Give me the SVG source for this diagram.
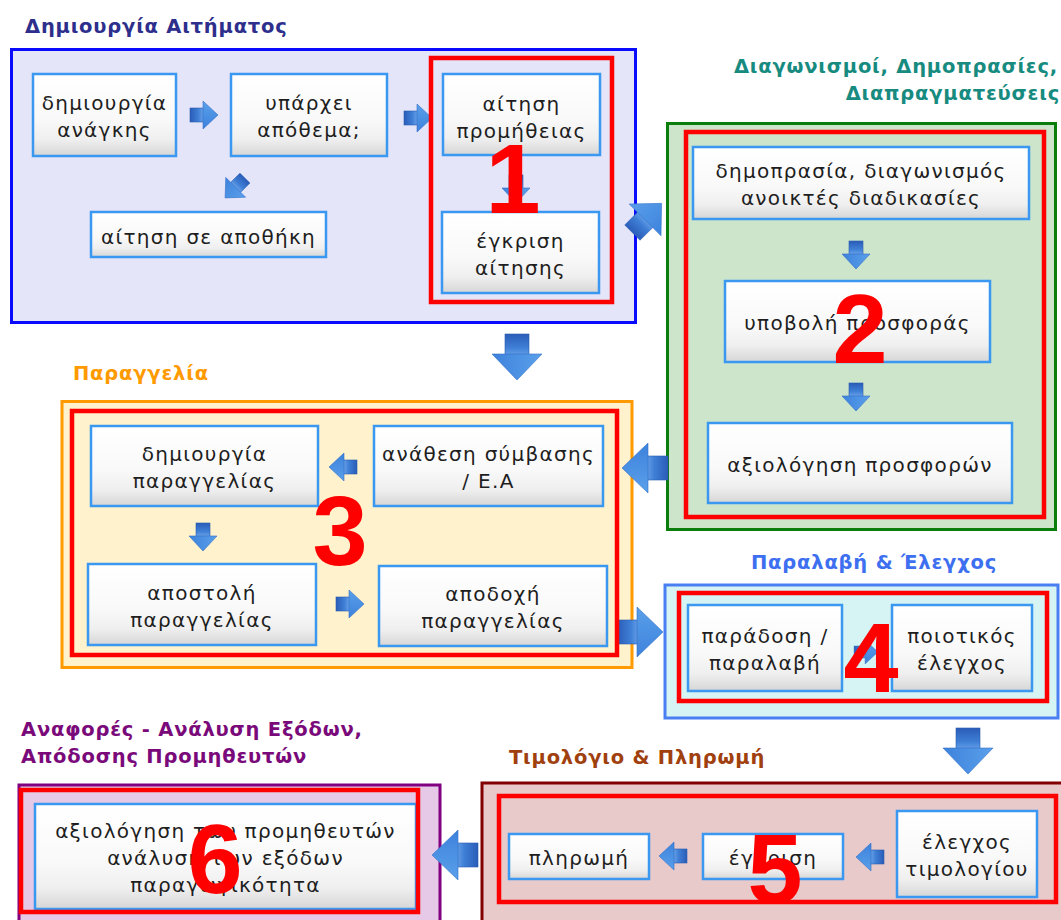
<svg xmlns="http://www.w3.org/2000/svg" width="1061" height="920" viewBox="0 0 1061 920">
  <defs>
    <linearGradient id="boxFill" x1="0" y1="0" x2="0" y2="1">
      <stop offset="0" stop-color="#ffffff"/>
      <stop offset="0.55" stop-color="#f9f9f9"/>
      <stop offset="0.8" stop-color="#efefef"/>
      <stop offset="1" stop-color="#d6d6d6"/>
    </linearGradient>
    <linearGradient id="shaftFill" x1="0" y1="0" x2="1" y2="0">
      <stop offset="0" stop-color="#2a5cb8"/>
      <stop offset="0.6" stop-color="#3f7fd6"/>
      <stop offset="1" stop-color="#6ea6ea"/>
    </linearGradient>
    <linearGradient id="headFill" x1="0" y1="0" x2="0" y2="1">
      <stop offset="0" stop-color="#5aa0ea"/>
      <stop offset="1" stop-color="#3d82dc"/>
    </linearGradient>
    <!-- small block arrow, pointing right, centred on the origin -->
    <g id="arrowSmall">
      <rect x="-14" y="-7" width="14" height="14" fill="url(#shaftFill)" stroke="#2a5cb0" stroke-width="0.6"/>
      <polygon points="-1,-14 14,0 -1,14" fill="url(#headFill)" stroke="#3470c8" stroke-width="0.6"/>
    </g>
    <!-- large block arrow, pointing right, centred on the origin -->
    <g id="arrowBig">
      <rect x="-23" y="-12" width="23" height="24" fill="url(#shaftFill)" stroke="#2a5cb0" stroke-width="0.6"/>
      <polygon points="-3,-25 23,0 -3,25" fill="url(#headFill)" stroke="#3470c8" stroke-width="0.6"/>
    </g>
  </defs>
  <style>
    .title { font-family: "DejaVu Sans", Verdana, sans-serif; font-weight: bold; font-size: 19.5px; letter-spacing: 0.8px; }
    .box { fill: url(#boxFill); stroke: #3a98f0; stroke-width: 2.5; }
    .lbl { font-family: "DejaVu Sans", Verdana, sans-serif; font-size: 20px; fill: #1e1e1e; text-anchor: middle; letter-spacing: 1.3px; }
    .stage { fill: none; stroke: #ff0000; stroke-width: 4.5; }
    .num { font-family: "Liberation Sans", Arial, sans-serif; font-weight: bold; font-size: 99px; fill: #ff0000; text-anchor: middle; }
  </style>

  <rect width="1061" height="920" fill="#ffffff"/>

  <!-- section containers -->
  <g id="sec-request">
    <rect x="11.5" y="49.5" width="624" height="273" fill="#e5e5fa" stroke="#0a0aff" stroke-width="3"/>
    <text class="title" x="25" y="33" fill="#2e2f8c">Δημιουργία Αιτήματος</text>
  </g>
  <g id="sec-tender">
    <rect x="667.5" y="123.5" width="388" height="406" fill="#cde5cb" stroke="#0a7d0a" stroke-width="3"/>
    <text class="title" x="1058" y="73" fill="#178b80" text-anchor="end">Διαγωνισμοί, Δημοπρασίες,</text>
    <text class="title" x="1060" y="100" fill="#178b80" text-anchor="end">Διαπραγματεύσεις</text>
  </g>
  <g id="sec-order">
    <rect x="62" y="401.5" width="570" height="266" fill="#fff2cc" stroke="#ff9a00" stroke-width="3"/>
    <text class="title" x="73" y="380" fill="#ff9a00">Παραγγελία</text>
  </g>
  <g id="sec-receipt">
    <rect x="665" y="585" width="393" height="133" fill="#d6f4f4" stroke="#4a7ff4" stroke-width="3"/>
    <text class="title" x="751" y="569" fill="#3d6ff0">Παραλαβή &amp; Έλεγχος</text>
  </g>
  <g id="sec-invoice">
    <rect x="482" y="783" width="600" height="160" fill="#e8cacb" stroke="#820000" stroke-width="3"/>
    <text class="title" x="509" y="764" fill="#a0400e">Τιμολόγιο &amp; Πληρωμή</text>
  </g>
  <g id="sec-reports">
    <rect x="19" y="785" width="421" height="160" fill="#e6c9e6" stroke="#800080" stroke-width="3"/>
    <text class="title" x="21" y="736" fill="#7a0a7a">Αναφορές - Ανάλυση Εξόδων,</text>
    <text class="title" x="21" y="763" fill="#7a0a7a">Απόδοσης Προμηθευτών</text>
  </g>

  <!-- process steps -->
  <g id="n-need">
    <rect class="box" x="33" y="74" width="143" height="82"/>
    <text class="lbl" x="104.5" y="110">δημιουργία</text>
    <text class="lbl" x="104.5" y="137">ανάγκης</text>
  </g>
  <g id="n-stock">
    <rect class="box" x="231" y="74" width="156" height="82"/>
    <text class="lbl" x="309" y="110">υπάρχει</text>
    <text class="lbl" x="309" y="137">απόθεμα;</text>
  </g>
  <g id="n-warehouse">
    <rect class="box" x="91" y="212" width="235" height="45"/>
    <text class="lbl" x="208.5" y="244">αίτηση σε αποθήκη</text>
  </g>
  <g id="n-supply">
    <rect class="box" x="443" y="74" width="157" height="81"/>
    <text class="lbl" x="521.5" y="111">αίτηση</text>
    <text class="lbl" x="521.5" y="138">προμήθειας</text>
  </g>
  <g id="n-approve">
    <rect class="box" x="442" y="212" width="157" height="81"/>
    <text class="lbl" x="520.5" y="248">έγκριση</text>
    <text class="lbl" x="520.5" y="275">αίτησης</text>
  </g>
  <g id="n-auction">
    <rect class="box" x="693" y="147" width="336" height="72"/>
    <text class="lbl" x="861" y="178">δημοπρασία, διαγωνισμός</text>
    <text class="lbl" x="861" y="205">ανοικτές διαδικασίες</text>
  </g>
  <g id="n-offer">
    <rect class="box" x="725" y="281" width="265" height="81"/>
    <text class="lbl" x="857.5" y="330">υποβολή προσφοράς</text>
  </g>
  <g id="n-evaluate">
    <rect class="box" x="708" y="423" width="304" height="80"/>
    <text class="lbl" x="860" y="472">αξιολόγηση προσφορών</text>
  </g>
  <g id="n-create-order">
    <rect class="box" x="91" y="426" width="227" height="80"/>
    <text class="lbl" x="204.5" y="461">δημιουργία</text>
    <text class="lbl" x="204.5" y="488">παραγγελίας</text>
  </g>
  <g id="n-award">
    <rect class="box" x="374" y="426" width="229" height="80"/>
    <text class="lbl" x="488.5" y="461">ανάθεση σύμβασης</text>
    <text class="lbl" x="488.5" y="488">/ Ε.Α</text>
  </g>
  <g id="n-send-order">
    <rect class="box" x="88" y="564" width="228" height="81"/>
    <text class="lbl" x="202" y="600">αποστολή</text>
    <text class="lbl" x="202" y="627">παραγγελίας</text>
  </g>
  <g id="n-accept-order">
    <rect class="box" x="379" y="566" width="228" height="80"/>
    <text class="lbl" x="493" y="601">αποδοχή</text>
    <text class="lbl" x="493" y="628">παραγγελίας</text>
  </g>
  <g id="n-delivery">
    <rect class="box" x="688" y="605" width="154" height="86"/>
    <text class="lbl" x="765" y="643">παράδοση /</text>
    <text class="lbl" x="765" y="670">παραλαβή</text>
  </g>
  <g id="n-quality">
    <rect class="box" x="892" y="605" width="140" height="86"/>
    <text class="lbl" x="962" y="643">ποιοτικός</text>
    <text class="lbl" x="962" y="670">έλεγχος</text>
  </g>
  <g id="n-invoice-check">
    <rect class="box" x="897" y="811" width="140" height="86"/>
    <text class="lbl" x="967" y="849">έλεγχος</text>
    <text class="lbl" x="967" y="876">τιμολογίου</text>
  </g>
  <g id="n-invoice-approve">
    <rect class="box" x="703" y="834" width="140" height="45"/>
    <text class="lbl" x="773" y="865">έγκριση</text>
  </g>
  <g id="n-payment">
    <rect class="box" x="509" y="834" width="140" height="45"/>
    <text class="lbl" x="579" y="865">πληρωμή</text>
  </g>
  <g id="n-report">
    <rect class="box" x="35" y="804" width="381" height="105"/>
    <text class="lbl" x="225.5" y="838">αξιολόγηση των προμηθευτών</text>
    <text class="lbl" x="225.5" y="865">ανάλυση των εξόδων</text>
    <text class="lbl" x="225.5" y="892">παραγωγικότητα</text>
  </g>

  <!-- connectors -->
  <g id="connectors">
    <use href="#arrowSmall" transform="translate(204,115)"/>
    <use href="#arrowSmall" transform="translate(418,118)"/>
    <use href="#arrowSmall" transform="translate(235,188) rotate(135)"/>
    <use href="#arrowSmall" transform="translate(516,189) rotate(90)"/>
    <use href="#arrowBig" transform="translate(647,218) rotate(-45) scale(0.9)"/>
    <use href="#arrowSmall" transform="translate(856,255) rotate(90)"/>
    <use href="#arrowSmall" transform="translate(856,397) rotate(90)"/>
    <use href="#arrowBig" transform="translate(517,357) rotate(90)"/>
    <use href="#arrowBig" transform="translate(645,468) rotate(180)"/>
    <use href="#arrowSmall" transform="translate(343,467) rotate(180)"/>
    <use href="#arrowSmall" transform="translate(203,537) rotate(90)"/>
    <use href="#arrowSmall" transform="translate(350,604)"/>
    <use href="#arrowBig" transform="translate(640,632)"/>
    <use href="#arrowSmall" transform="translate(866,652) scale(0.85)"/>
    <use href="#arrowBig" transform="translate(968,751) rotate(90)"/>
    <use href="#arrowSmall" transform="translate(870,857) rotate(180)"/>
    <use href="#arrowSmall" transform="translate(673,856) rotate(180)"/>
    <use href="#arrowBig" transform="translate(455,855) rotate(180)"/>
  </g>

  <!-- stage frames and numbers -->
  <g id="stage-1">
    <rect class="stage" x="431" y="58" width="181" height="244"/>
    <text class="num" x="513" y="213">1</text>
  </g>
  <g id="stage-2">
    <rect class="stage" x="686" y="132" width="358" height="385"/>
    <text class="num" x="860" y="363">2</text>
  </g>
  <g id="stage-3">
    <rect class="stage" x="72" y="411" width="545" height="244"/>
    <text class="num" x="340" y="565">3</text>
  </g>
  <g id="stage-4">
    <rect class="stage" x="679" y="593" width="368" height="108"/>
    <text class="num" x="871" y="692">4</text>
  </g>
  <g id="stage-5">
    <rect class="stage" x="499" y="796" width="557" height="106"/>
    <text class="num" x="775" y="903">5</text>
  </g>
  <g id="stage-6">
    <rect class="stage" x="21" y="790" width="397" height="122"/>
    <text class="num" x="215" y="893">6</text>
  </g>
</svg>
